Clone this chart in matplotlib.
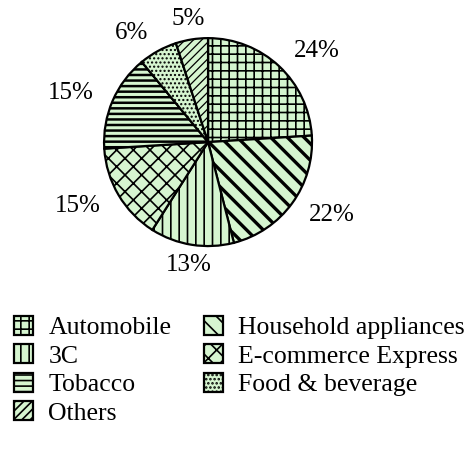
import matplotlib
matplotlib.use("Agg")
import matplotlib.pyplot as plt

categories = ["Automobile", "Household appliances", "3C", "E-commerce Express",
              "Tobacco", "Food & beverage", "Others"]
shares = [24, 22, 13, 15, 15, 6, 5]
hatches = ["++", "\\\\", "||", "xx", "---", "....", "////"]
hatch_widths = [1.2, 2.4, 1.2, 1.2, 1.8, 1.0, 0.9]

plt.rcParams["font.family"] = ["Liberation Serif", "DejaVu Serif"]
plt.rcParams["hatch.linewidth"] = 1.2

fig = plt.figure(figsize=(4.75, 4.54), dpi=100)
ax = fig.add_axes([0.438 - 0.219, 0.687 - 0.229, 0.438, 0.458])

wedges, texts = ax.pie(
    shares, startangle=90, counterclock=False,
    labels=[f"{v}%" for v in shares], labeldistance=1.2,
    colors=["#d6f5d0"] * len(shares),
    wedgeprops=dict(edgecolor="black", linewidth=1.6),
    textprops=dict(fontsize=18),
)
for w, h, lw in zip(wedges, hatches, hatch_widths):
    w.set_hatch(h)
    if hasattr(w, "set_hatch_linewidth"):
        w.set_hatch_linewidth(lw)
# labels sitting almost straight above or below the centre are centred on their wedge
for t in texts:
    x, _ = t.get_position()
    if abs(x) < 0.3:
        t.set_ha("center")
ax.set_xlim(-1, 1)
ax.set_ylim(-1, 1)
ax.set_aspect("equal")

order = [0, 2, 4, 6, 1, 3, 5]
fig.legend([wedges[i] for i in order], [categories[i] for i in order],
           ncol=2, loc="upper left", bbox_to_anchor=(-0.009, 0.344),
           frameon=False, fontsize=18.5, handlelength=0.75, handleheight=0.75,
           handletextpad=0.6, columnspacing=1.26, labelspacing=0.2,
           borderaxespad=0.3)

fig.savefig("out.png", dpi=100)
